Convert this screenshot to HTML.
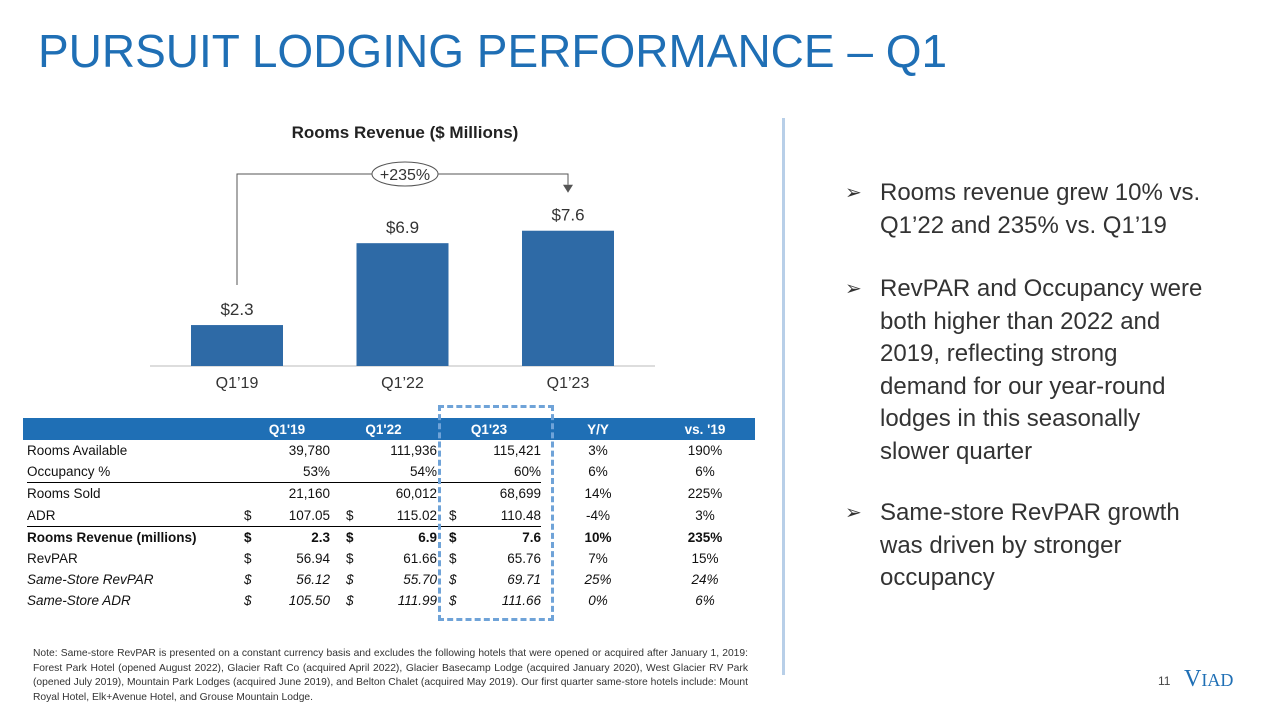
<!DOCTYPE html>
<html><head><meta charset="utf-8"><style>
body{margin:0;width:1280px;height:720px;overflow:hidden;background:#fff;font-family:"Liberation Sans",sans-serif;position:relative}
.a{position:absolute}
#title{left:38px;top:24px;font-size:46px;color:#1f6fb5;white-space:nowrap}
table{border-collapse:collapse;font-size:13.5px;color:#111;table-layout:fixed}
td{height:21.2px;padding:0;white-space:nowrap;overflow:visible}
.r{text-align:right}.c{text-align:center}
.bul{left:845px;font-size:24px;color:#333;line-height:32.5px;width:420px;white-space:nowrap}
.bul span.m{position:absolute;left:0;top:0;font-size:20px}
.bul div{padding-left:35px}
.d2{padding-left:16px}.d3{padding-left:12px}
</style></head><body>
<div id="title" class="a">PURSUIT LODGING PERFORMANCE – Q1</div>
<svg class="a" style="left:0;top:0" width="780" height="400" id="chart"></svg>
<div class="a" style="left:782px;top:118px;width:3px;height:557px;background:#b8cfe8"></div>

<div class="a bul" style="top:177px"><span class="m">➢</span><div>Rooms revenue grew 10% vs.<br>Q1’22 and 235% vs. Q1’19</div></div>
<div class="a bul" style="top:273px"><span class="m">➢</span><div>RevPAR and Occupancy were<br>both higher than 2022 and<br>2019, reflecting strong<br>demand for our year-round<br>lodges in this seasonally<br>slower quarter</div></div>
<div class="a bul" style="top:497px"><span class="m">➢</span><div>Same-store RevPAR growth<br>was driven by stronger<br>occupancy</div></div>

<div class="a" style="left:23px;top:418px;width:732px;height:22px;background:#1f6fb5"></div>
<table class="a" style="left:27px;top:418px;width:728px">
<colgroup><col style="width:217px"><col style="width:18px"><col style="width:68px"><col style="width:32px"><col style="width:75px"><col style="width:25px"><col style="width:79px"><col style="width:114px"><col style="width:100px"></colgroup>
<tr style="color:#fff;font-weight:bold;height:22px"><td></td><td colspan="2" class="c">Q1'19</td><td colspan="2" class="c">Q1'22</td><td colspan="2" class="c">Q1'23</td><td class="c">Y/Y</td><td class="c">vs. '19</td></tr>
<tr><td>Rooms Available</td><td></td><td class="r">39,780</td><td></td><td class="r">111,936</td><td></td><td class="r">115,421</td><td class="c">3%</td><td class="c">190%</td></tr>
<tr style="border-bottom:1.5px solid #000"><td>Occupancy %</td><td></td><td class="r">53%</td><td></td><td class="r">54%</td><td></td><td class="r">60%</td><td class="c" style="border-bottom:1.5px solid #fff">6%</td><td class="c" style="border-bottom:1.5px solid #fff">6%</td></tr>
<tr><td>Rooms Sold</td><td></td><td class="r">21,160</td><td></td><td class="r">60,012</td><td></td><td class="r">68,699</td><td class="c">14%</td><td class="c">225%</td></tr>
<tr style="border-bottom:1.5px solid #000"><td>ADR</td><td>$</td><td class="r">107.05</td><td class="d2">$</td><td class="r">115.02</td><td class="d3">$</td><td class="r">110.48</td><td class="c" style="border-bottom:1.5px solid #fff">-4%</td><td class="c" style="border-bottom:1.5px solid #fff">3%</td></tr>
<tr style="font-weight:bold"><td>Rooms Revenue (millions)</td><td>$</td><td class="r">2.3</td><td class="d2">$</td><td class="r">6.9</td><td class="d3">$</td><td class="r">7.6</td><td class="c">10%</td><td class="c">235%</td></tr>
<tr><td>RevPAR</td><td>$</td><td class="r">56.94</td><td class="d2">$</td><td class="r">61.66</td><td class="d3">$</td><td class="r">65.76</td><td class="c">7%</td><td class="c">15%</td></tr>
<tr style="font-style:italic"><td>Same-Store RevPAR</td><td>$</td><td class="r">56.12</td><td class="d2">$</td><td class="r">55.70</td><td class="d3">$</td><td class="r">69.71</td><td class="c">25%</td><td class="c">24%</td></tr>
<tr style="font-style:italic"><td>Same-Store ADR</td><td>$</td><td class="r">105.50</td><td class="d2">$</td><td class="r">111.99</td><td class="d3">$</td><td class="r">111.66</td><td class="c">0%</td><td class="c">6%</td></tr>
</table>
<div class="a" style="left:438px;top:405px;width:110px;height:210px;border:3px dashed #6fa3d8"></div>

<div class="a" style="left:33px;top:647px;width:715px;font-size:10.3px;line-height:14.5px;color:#333;text-align:justify">Note: Same-store RevPAR is presented on a constant currency basis and excludes the following hotels that were opened or acquired after January 1, 2019: Forest Park Hotel (opened August 2022), Glacier Raft Co (acquired April 2022), Glacier Basecamp Lodge (acquired January 2020), West Glacier RV Park (opened July 2019), Mountain Park Lodges (acquired June 2019), and Belton Chalet (acquired May 2019). Our first quarter same-store hotels include: Mount Royal Hotel, Elk+Avenue Hotel, and Grouse Mountain Lodge.</div>
<div class="a" style="left:1158px;top:674px;font-size:12px;color:#444">11</div>
<div class="a" style="left:1184px;top:666px;font-family:'Liberation Serif',serif;font-size:24px;color:#1f6fb5">V<span style="font-size:18px">IAD</span></div>

<script>
const categories=["Q1’19","Q1’22","Q1’23"];
const values=[2.3,6.9,7.6];
const labels=["$2.3","$6.9","$7.6"];
const svg=document.getElementById('chart');const NS="http://www.w3.org/2000/svg";
const base=366, scale=17.8, x0=237, step=165.5, bw=92;
const xs=i=>x0+i*step, ys=v=>base-v*scale;
function mk(t,a){const e=document.createElementNS(NS,t);for(const k in a)e.setAttribute(k,a[k]);svg.appendChild(e);return e;}
let t=mk('text',{x:405,y:138,'text-anchor':'middle','font-size':17,'font-weight':'bold',fill:'#222'});t.textContent="Rooms Revenue ($ Millions)";


let ax=mk('line',{x1:150,x2:655,y1:base,y2:base,stroke:'#bbb','stroke-width':1});


values.forEach((v,i)=>{
 const r=mk('rect',{x:xs(i)-bw/2,y:ys(v),width:bw,height:v*scale,fill:'#2e6aa6'});
 
 
 const l=mk('text',{x:xs(i),y:ys(v)-10,'text-anchor':'middle','font-size':17,fill:'#333'});l.textContent=labels[i];
 
 
 const c=mk('text',{x:xs(i),y:base+22,'text-anchor':'middle','font-size':16,fill:'#333'});c.textContent=categories[i];
 
 
});
const p=mk('path',{d:`M${xs(0)} ${ys(values[0])-40} V174 H${xs(2)} V${ys(values[2])-46}`,fill:'none',stroke:'#555','stroke-width':1});


const ar=mk('path',{d:`M${xs(2)-5} ${ys(values[2])-46} L${xs(2)+5} ${ys(values[2])-46} L${xs(2)} ${ys(values[2])-38}Z`,fill:'#555'});


const el=mk('ellipse',{cx:405,cy:174,rx:33,ry:12,fill:'#fff',stroke:'#555'});


const g=mk('text',{x:405,y:180,'text-anchor':'middle','font-size':16,fill:'#333'});g.textContent="+235%";


</script>
</body></html>
